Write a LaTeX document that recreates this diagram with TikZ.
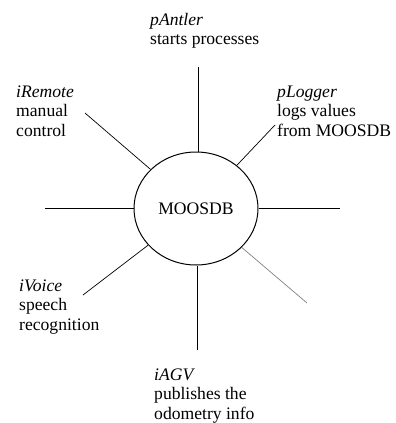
\documentclass[tikz,border=0pt]{standalone}
\usepackage{fontspec}
\setmainfont{Liberation Serif}
\usetikzlibrary{shapes.geometric}
\begin{document}
\begin{tikzpicture}[x=1pt,y=-1pt,
  lbl/.style={anchor=base west,align=left,inner sep=0pt,font=\fontsize{17.6}{19.5}\selectfont},
  spoke/.style={line width=0.7pt},
  db/.style={ellipse,draw,line width=1pt,minimum width=124pt,minimum height=113pt,inner sep=0pt,font=\fontsize{17.6}{19.5}\selectfont}]
\useasboundingbox (0,0) rectangle (396,423);
\node[db] (e) at (196,208.5) {MOOSDB};
\coordinate (t) at (198,67);
\coordinate (b) at (197,350);
\coordinate (l) at (45,208.5);
\coordinate (r) at (340,208.5);
\coordinate (ul) at (85,113);
\coordinate (ur) at (275,125);
\coordinate (ll) at (83,295);
\coordinate (lr) at (307,303);
\draw[spoke] (t) -- (t |- e.north);
\draw[spoke] (b) -- (b |- e.south);
\draw[spoke] (l) -- (e.west);
\draw[spoke] (r) -- (e.east);
\draw[spoke] (ul) -- (e);
\draw[spoke] (ur) -- (e);
\draw[spoke] (ll) -- (e);
\draw[spoke,gray] (lr) -- (e);
\node[lbl] (pantler) at (150,44.5) {\textit{pAntler}\\starts processes};
\node[lbl] (iremote) at (16,136) {\textit{iRemote}\\manual\\control};
\node[lbl] (plogger) at (277,136) {\textit{pLogger}\\logs values\\from MOOSDB};
\node[lbl] (ivoice) at (19,330) {\textit{iVoice}\\speech\\recognition};
\node[lbl] (iagv) at (154,419) {\textit{iAGV}\\publishes the\\odometry info};
\end{tikzpicture}
\end{document}
